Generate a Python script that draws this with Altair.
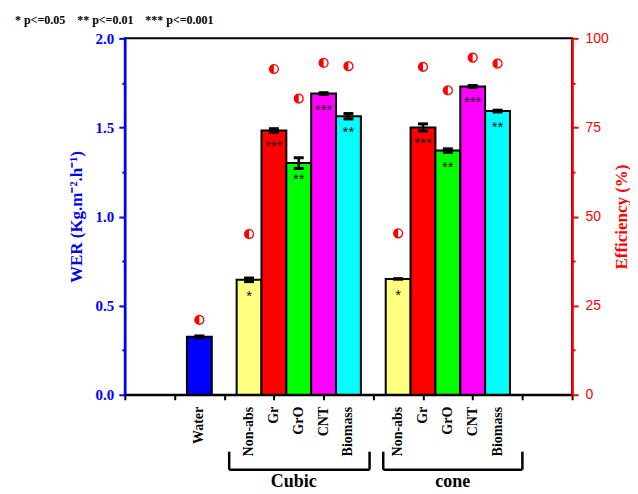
import altair as alt
import pandas as pd

# ---------------- data ----------------
categories = ["Water", "Non-abs", "Gr", "GrO", "CNT", "Biomass",
              "Non-abs", "Gr", "GrO", "CNT", "Biomass"]
slot = [3, 5, 6, 7, 8, 9, 11, 12, 13, 14, 15]          # slot index on the x axis
wer = [0.325, 0.645, 1.483, 1.30, 1.69, 1.563, 0.65, 1.50, 1.37, 1.73, 1.592]
wer_err = [0.005, 0.01, 0.01, 0.03, 0.005, 0.015, 0.0, 0.02, 0.01, 0.005, 0.005]
efficiency = [21.0, 45.1, 91.4, 83.1, 93.1, 92.2, 45.3, 92.0, 85.4, 94.6, 92.9]
stars = ["", "*", "***", "**", "***", "**", "*", "***", "**", "***", "**"]
bar_colors = ["#0000FF", "#FFFF80", "#FF0000", "#00FF00", "#FF00FF", "#00FFFF",
              "#FFFF80", "#FF0000", "#00FF00", "#FF00FF", "#00FFFF"]

group_names = ["Cubic", "cone"]
group_start = [4.2, 10.4]
group_end = [9.85, 16.0]
group_label_x = [6.8, 13.2]

n_slots = 18
wer_ticks = [i * 0.25 for i in range(9)]
eff_ticks = [i * 12.5 for i in range(9)]
legend_text = "*\u00a0p<=0.05\u00a0\u00a0\u00a0\u00a0**\u00a0p<=0.01\u00a0\u00a0\u00a0\u00a0***\u00a0p<=0.001"

df = pd.DataFrame({
    "cat": categories, "slot": slot, "wer": wer, "err": wer_err,
    "eff": efficiency, "stars": stars, "color": bar_colors,
})
gdf = pd.DataFrame({"name": group_names, "start": group_start,
                    "end": group_end, "lx": group_label_x})

SERIF = "Liberation Serif"
SANS = "Liberation Sans"

base = alt.Chart(df).transform_calculate(
    x0="datum.slot - 0.5", x1="datum.slot + 0.5", zero="0",
    lo="datum.wer - datum.err", hi="datum.wer + datum.err",
    c0="datum.slot - 0.2", c1="datum.slot + 0.2",
)

xscale = alt.Scale(domain=[0, n_slots], nice=False, zero=False)
yscale = alt.Scale(domain=[0, 2], nice=False)

x_axis = alt.Axis(
    values=list(range(n_slots + 1)), labels=False,
    tickColor="black", tickSize=5, tickWidth=2,
    domainColor="black", domainWidth=2, grid=False, title=None,
)
y_axis = alt.Axis(
    values=wer_ticks,
    labelExpr="datum.value % 0.5 === 0 ? format(datum.value, '.1f') : ''",
    tickSize={"condition": {"test": "datum.value % 0.5 === 0", "value": 6}, "value": 3},
    tickWidth=2, tickColor="#0000FF", domainColor="#0000FF", domainWidth=2.5,
    labelColor="#0000FF", labelFont=SERIF, labelFontWeight="bold", labelFontSize=15,
    labelPadding=5, labelOverlap=False, grid=False,
    title="WER (Kg.m\u207b\u00b2.h\u207b\u00b9)", titleColor="#0000FF", titleFont=SERIF,
    titleFontWeight="bold", titleFontSize=17, titlePadding=10,
)
eff_axis = alt.Axis(
    orient="right", values=eff_ticks,
    labelExpr="datum.value % 25 === 0 ? format(datum.value, 'd') : ''",
    tickSize={"condition": {"test": "datum.value % 25 === 0", "value": 6}, "value": 3},
    tickWidth=2, tickColor="#FF0000", domainColor="#FF0000", domainWidth=2.5,
    labelColor="#FF0000", labelFont=SANS, labelFontSize=14, labelPadding=7,
    labelOverlap=False, grid=False,
    title="Efficiency (%)", titleColor="#FF0000", titleFont=SERIF,
    titleFontWeight="bold", titleFontSize=17, titlePadding=22, titleAngle=270,
)

bars = base.mark_rect(stroke="black", strokeWidth=2).encode(
    x=alt.X("x0:Q", scale=xscale, axis=x_axis),
    x2="x1:Q",
    y=alt.Y("wer:Q", scale=yscale, axis=y_axis),
    y2="zero:Q",
    fill=alt.Fill("color:N", scale=None),
)
err = base.mark_rule(color="black", strokeWidth=2.5).encode(
    x="slot:Q", y="lo:Q", y2="hi:Q")
cap_hi = base.mark_rule(color="black", strokeWidth=3).encode(
    x="c0:Q", x2="c1:Q", y="hi:Q")
cap_lo = base.mark_rule(color="black", strokeWidth=3).encode(
    x="c0:Q", x2="c1:Q", y="lo:Q")
star_txt = base.mark_text(font=SANS, fontSize=15, color="#111111", dy=16,
                          baseline="middle").encode(
    x="slot:Q", y="wer:Q", text="stars:N")
cat_txt = base.mark_text(font=SERIF, fontWeight="bold", fontSize=14, angle=270,
                         align="right", baseline="middle", color="black").encode(
    x="slot:Q", y=alt.value(369), text="cat:N")

gbase = alt.Chart(gdf)
bracket_h = gbase.mark_rule(color="black", strokeWidth=2.5).encode(
    x="start:Q", x2="end:Q", y=alt.value(432))
bracket_l = gbase.mark_rule(color="black", strokeWidth=2.5).encode(
    x="start:Q", y=alt.value(414), y2=alt.value(432))
bracket_r = gbase.mark_rule(color="black", strokeWidth=2.5).encode(
    x="end:Q", y=alt.value(414), y2=alt.value(432))
group_txt = gbase.mark_text(font=SERIF, fontWeight="bold", fontSize=18,
                            baseline="middle").encode(
    x="lx:Q", y=alt.value(444), text="name:N")

legend = alt.Chart(pd.DataFrame({"t": [legend_text]})).mark_text(
    font=SERIF, fontWeight="bold", fontSize=12, align="left", baseline="middle",
    color="black").encode(x=alt.value(-110), y=alt.value(-18), text="t:N")

left = alt.layer(bars, err, cap_hi, cap_lo, star_txt, cat_txt,
                 bracket_h, bracket_l, bracket_r, group_txt, legend)

ring = base.mark_point(shape="circle", filled=True, fill="white", stroke="#FF0000",
                       strokeWidth=1.3, size=80, opacity=1).encode(
    x="slot:Q",
    y=alt.Y("eff:Q", scale=alt.Scale(domain=[0, 100], nice=False), axis=eff_axis))
half = base.mark_point(shape="M0,-1A1,1,0,0,0,0,1Z", filled=True, color="#FF0000",
                       size=80, opacity=1).encode(
    x="slot:Q", y="eff:Q")
right = alt.layer(ring, half)

chart = alt.layer(left, right).resolve_scale(y="independent").properties(
    width=448, height=357,
    padding={"left": 7, "top": 6, "right": 0, "bottom": 0},
).configure_view(stroke="black", strokeWidth=2)

chart.save("out.html", embed_options={"renderer": "svg", "actions": False})
